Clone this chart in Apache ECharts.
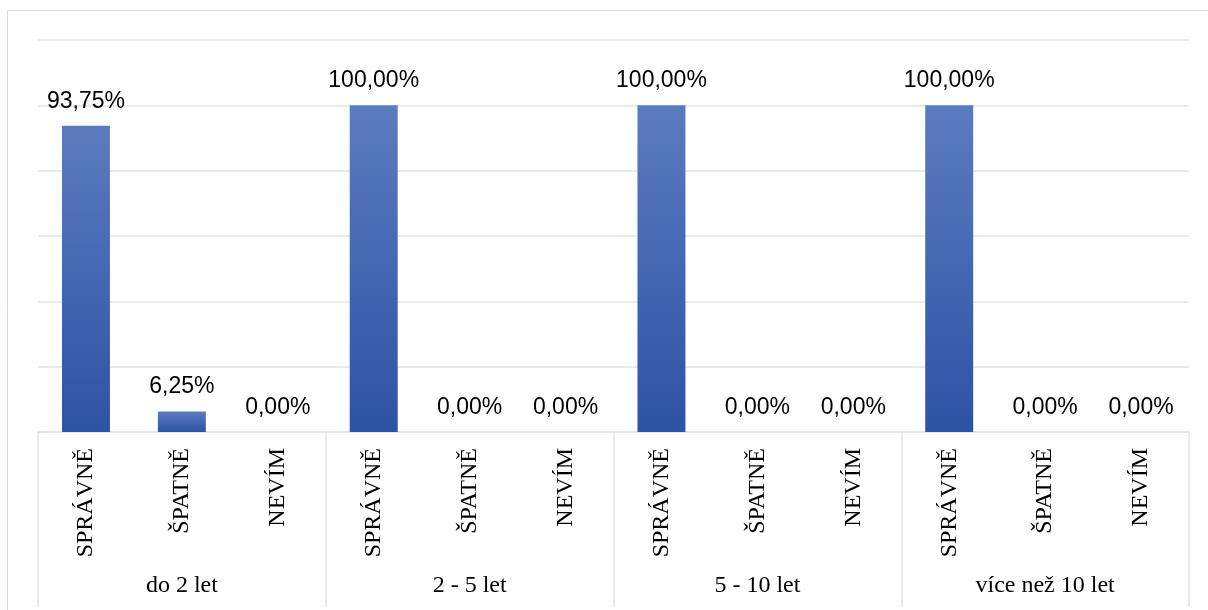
<!DOCTYPE html>
<html>
<head>
<meta charset="utf-8">
<script src="https://cdn.jsdelivr.net/npm/echarts@6/dist/echarts.min.js"></script>
<style>
  html, body { margin: 0; padding: 0; background: #fff; }
  #chart { width: 1208px; height: 610px; }
</style>
</head>
<body>
<div id="chart"></div>
<script>
// Answer groups by length of practice
const groups = ['do 2 let', '2 - 5 let', '5 - 10 let', 'více než 10 let'];
const answers = ['SPRÁVNĚ', 'ŠPATNĚ', 'NEVÍM'];
// Share of answers (%) within each group, in the order of `answers`
const doDvouLet = [93.75, 6.25, 0.00];
const dvaAzPetLet = [100.00, 0.00, 0.00];
const petAzDesetLet = [100.00, 0.00, 0.00];
const viceNezDesetLet = [100.00, 0.00, 0.00];

const groupValues = [doDvouLet, dvaAzPetLet, petAzDesetLet, viceNezDesetLet];
const categories = [];
const values = [];
groupValues.forEach(function (vals) {
  vals.forEach(function (v, i) {
    categories.push(answers[i]);
    values.push(v);
  });
});

const gridColor = '#dfe3ea';
const chart = echarts.init(document.getElementById('chart'), null, { renderer: 'canvas' });

chart.setOption({
  animation: false,
  backgroundColor: '#ffffff',
  graphic: [{
    type: 'rect',
    shape: { x: 7.5, y: 10.5, width: 1210, height: 610 },
    style: { fill: 'none', stroke: '#d9dce3', lineWidth: 1 },
    silent: true
  }],
  grid: { left: 38, right: 19, top: 40, bottom: 178, containLabel: false },
  xAxis: [{
    type: 'category',
    data: categories,
    position: 'bottom',
    axisLine: { show: true, lineStyle: { color: gridColor, width: 1.5 } },
    axisTick: { show: false },
    axisLabel: {
      rotate: 90,
      margin: 16,
      interval: 0,
      fontFamily: 'Liberation Serif',
      fontSize: 24,
      color: '#000'
    }
  }, {
    type: 'category',
    data: groups,
    position: 'bottom',
    axisLine: { show: false },
    axisTick: { show: true, length: 175, lineStyle: { color: gridColor, width: 1.5 } },
    axisLabel: {
      margin: 142,
      interval: 0,
      fontFamily: 'Liberation Serif',
      fontSize: 24,
      color: '#000'
    }
  }],
  yAxis: {
    type: 'value',
    min: 0,
    max: 120,
    interval: 20,
    axisLabel: { show: false },
    axisLine: { show: false },
    axisTick: { show: false },
    splitLine: { lineStyle: { color: gridColor, width: 1.5 } }
  },
  series: [{
    type: 'bar',
    data: values,
    barWidth: '50%',
    itemStyle: {
      color: new echarts.graphic.LinearGradient(0, 0, 0, 1, [
        { offset: 0, color: '#5c7bbf' },
        { offset: 1, color: '#2d53a6' }
      ])
    },
    label: {
      show: true,
      position: 'top',
      distance: 13,
      fontFamily: 'Liberation Sans',
      fontSize: 23,
      color: '#000',
      formatter: function (p) {
        return p.value.toFixed(2).replace('.', ',') + '%';
      }
    }
  }]
});
</script>
</body>
</html>
